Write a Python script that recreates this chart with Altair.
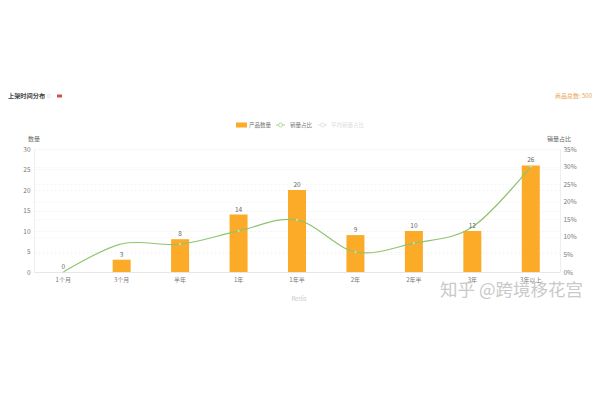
import altair as alt
import pandas as pd

FONT = "Noto Sans CJK SC"
cats = ["1个月", "3个月", "半年", "1年", "1年半", "2年", "2年半", "3年", "3年以上"]
counts = [0, 3, 8, 14, 20, 9, 10, 10, 26]
count_labels = ["0", "3", "8", "14", "20", "9", "10", "12", "26"]
shares = [0, 8.0, 7.9, 11.7, 14.8, 5.7, 8.2, 12.8, 30.0]
count_ticks = [0, 5, 10, 15, 20, 25, 30]
share_ticks = [0, 5, 10, 15, 20, 25, 30, 35]

df = pd.DataFrame({"cat": cats, "count": counts, "label": count_labels, "share": shares})

x = alt.X("cat:N", sort=cats, title=None,
          scale=alt.Scale(paddingInner=0.69, paddingOuter=0.345),
          axis=alt.Axis(labelAngle=0, labelFont=FONT, labelFontSize=6, labelColor="#777777",
                        domainColor="#e6e6e6", ticks=False, labelPadding=4))
x_plain = alt.X("cat:N", sort=cats, title=None)
ycount = alt.Scale(domain=[0, 30], nice=False)
yshare = alt.Scale(domain=[0, 35], nice=False)

grid_count = alt.Chart(df).mark_bar(size=18, opacity=0).encode(
    x=x,
    y=alt.Y("count:Q", scale=ycount, title=None,
            axis=alt.Axis(values=count_ticks, grid=True, gridColor="#eeeeee", gridDash=[2, 2], gridWidth=0.7,
                          domainColor="#eeeeee", ticks=False, labelFont=FONT, labelFontSize=6.5,
                          labelColor="#777777", labelPadding=4)),
)
grid_share = alt.Chart(df).mark_line(opacity=0).encode(
    x=x_plain,
    y=alt.Y("share:Q", scale=yshare, title=None,
            axis=alt.Axis(values=share_ticks, orient="right", grid=True, gridColor="#f2f2f2", gridDash=[2, 2],
                          gridWidth=0.7, domainColor="#eeeeee", ticks=False, labelFont=FONT, labelFontSize=6.5,
                          labelColor="#777777", labelPadding=3,
                          labelExpr="datum.value + '%'")),
)
bars = alt.Chart(df).mark_bar(size=18, color="#fbab27").encode(
    x=x_plain,
    y=alt.Y("count:Q", scale=ycount, axis=None),
)
bar_text = alt.Chart(df).mark_text(font=FONT, fontSize=6.5, color="#666666", dy=-5).encode(
    x=x_plain,
    y=alt.Y("count:Q", scale=ycount, axis=None),
    text="label:N",
)
line = alt.Chart(df).mark_line(color="#8fc46f", strokeWidth=1.2, interpolate="cardinal", tension=0).encode(
    x=x_plain,
    y=alt.Y("share:Q", scale=yshare, axis=None),
)
points = alt.Chart(df).mark_point(filled=True, size=5, color="#cfe5b0", opacity=0.9).encode(
    x=x_plain,
    y=alt.Y("share:Q", scale=yshare, axis=None),
)

def label(txt, px, py, align="left", color="#666666", size=6.5, weight="normal"):
    return alt.Chart(pd.DataFrame({"t": [txt]})).mark_text(
        font=FONT, fontSize=size, color=color, align=align, fontWeight=weight, baseline="middle"
    ).encode(x=alt.value(px), y=alt.value(py), text="t:N")

def seg(px1, px2, py, color, width=1.0):
    return alt.Chart(pd.DataFrame({"a": [0]})).mark_rule(color=color, strokeWidth=width).encode(
        x=alt.value(px1), x2=alt.value(px2), y=alt.value(py))

def dot(px, py, stroke, size=16):
    return alt.Chart(pd.DataFrame({"a": [0]})).mark_point(
        stroke=stroke, fill="white", filled=True, opacity=1, size=size, strokeWidth=0.8
    ).encode(x=alt.value(px), y=alt.value(py))

OX, OY = 34, 149
extras = [
    label("上架时间分布", 8 - OX, 96 - OY, color="#444444", size=6.2, weight="bold"),
    dot(49 - OX, 96 - OY, "#dddddd", 10),
    seg(57 - OX, 62 - OX, 96 - OY, "#c9544a", 3),
    label("商品总数: 500", 592 - OX, 96 - OY, align="right", color="#e8a552", size=6),
    seg(236 - OX, 247 - OX, 125 - OY, "#fbab27", 5),
    label("产品数量", 249 - OX, 125 - OY, color="#777777", size=5.5),
    seg(276 - OX, 285 - OX, 125 - OY, "#a6cf8b", 1),
    dot(280.5 - OX, 125 - OY, "#a6cf8b"),
    label("销量占比", 290 - OX, 125 - OY, color="#777777", size=5.5),
    seg(318 - OX, 327 - OX, 125 - OY, "#dddddd", 1),
    dot(322.5 - OX, 125 - OY, "#dddddd"),
    label("平均销量占比", 331 - OX, 125 - OY, color="#dddddd", size=5.5),
    label("数量", 34 - OX, 139 - OY, align="center", color="#666666", size=6),
    label("销量占比", 559 - OX, 139 - OY, align="center", color="#666666", size=6),
    label("Redis", 299 - OX, 299 - OY, align="center", color="#cccccc", size=6),
    label("知乎 @跨境移花宫", 583 - OX, 291 - OY, align="right", color="#c9c9c9", size=17.5),
]

chart = alt.layer(grid_count, grid_share, bars, line, points, bar_text, *extras).resolve_scale(y="independent").properties(
    width=526, height=123,
    padding={"left": 26, "top": 141, "right": 32, "bottom": 50},
    autosize=alt.AutoSizeParams(type="none"),
    background="#ffffff",
).configure_view(stroke=None)

chart.save("out.html", embed_options={"renderer": "svg", "actions": False})
